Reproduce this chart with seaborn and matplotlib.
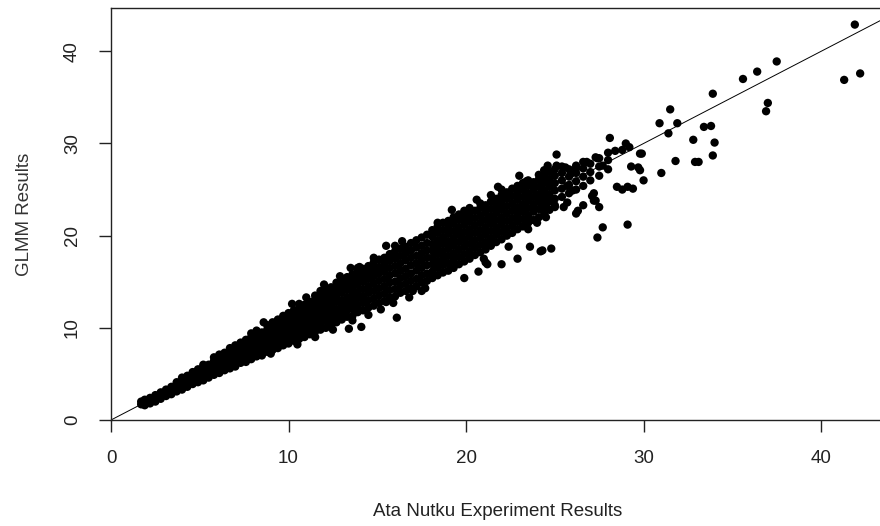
import matplotlib
matplotlib.use("Agg")
import matplotlib.pyplot as plt
import seaborn as sns
import pandas as pd

# ---------------- data ----------------
# dense core of the cloud: x value of each column and the y values in it
core_cols_x = [1.7, 1.9, 2.2, 2.5, 2.8, 3.1, 3.4, 3.7, 4.0, 4.3, 4.6, 4.9, 5.2, 5.5,
               5.8, 6.1, 6.4, 6.7, 7.0, 7.3, 7.6, 7.9, 8.2, 8.5, 8.8, 9.1, 9.4, 9.7,
               10.0, 10.3, 10.6, 10.9, 11.2, 11.5, 11.8, 12.1, 12.4, 12.7, 13.0, 13.3,
               13.6, 13.9, 14.2, 14.5, 14.8, 15.1, 15.4, 15.7, 16.0, 16.3, 16.6, 16.9,
               17.2, 17.5, 17.8]
core_cols_y = [
    [1.7, 2.0], [1.6, 1.9, 2.2], [1.8, 2.1, 2.4], [2.0, 2.4, 2.7], [2.3, 2.6, 3.0],
    [2.6, 2.9, 3.3], [2.8, 3.2, 3.6], [3.1, 3.5, 3.9, 4.1], [3.3, 3.7, 4.1, 4.6],
    [3.6, 4.0, 4.4, 4.8], [3.9, 4.3, 4.7, 5.2], [4.1, 4.5, 5.0, 5.5],
    [4.3, 4.8, 5.3, 5.8, 6.0], [4.6, 5.1, 5.5, 6.0], [4.9, 5.4, 5.9, 6.4, 6.8],
    [5.1, 5.6, 6.1, 6.6, 7.1], [5.4, 5.9, 6.4, 6.9, 7.3], [5.6, 6.2, 6.7, 7.2, 7.8],
    [5.8, 6.4, 7.0, 7.5, 8.1], [6.2, 6.7, 7.2, 7.8, 8.4], [6.3, 6.9, 7.5, 8.1, 8.7],
    [6.6, 7.2, 7.8, 8.4, 9.0, 9.4], [6.9, 7.5, 8.1, 8.7, 9.3, 9.7],
    [7.0, 7.7, 8.3, 8.9, 9.5], [7.4, 8.0, 8.6, 9.2, 9.8, 10.3],
    [7.6, 8.2, 8.8, 9.4, 10.0, 10.6], [7.8, 8.5, 9.1, 9.7, 10.3, 10.9],
    [8.1, 8.7, 9.4, 10.0, 10.6, 11.3], [8.3, 9.0, 9.6, 10.2, 10.9, 11.6],
    [8.6, 9.2, 9.9, 10.5, 11.2, 11.9], [8.8, 9.5, 10.1, 10.8, 11.5, 12.2, 12.6],
    [9.0, 9.7, 10.4, 11.1, 11.8, 12.5], [9.3, 10.0, 10.7, 11.4, 12.1, 12.8],
    [9.6, 10.3, 11.0, 11.7, 12.4, 13.1, 13.5], [9.8, 10.5, 11.2, 11.9, 12.6, 13.3, 14.0],
    [10.0, 10.8, 11.5, 12.2, 12.9, 13.6, 14.2], [10.4, 11.1, 11.8, 12.5, 13.2, 13.9, 14.4],
    [10.6, 11.3, 12.0, 12.8, 13.5, 14.2, 14.9], [10.9, 11.6, 12.3, 13.0, 13.8, 14.5, 15.2],
    [11.2, 11.9, 12.6, 13.3, 14.1, 14.8, 15.5], [11.3, 12.1, 12.9, 13.6, 14.4, 15.1, 15.8],
    [11.7, 12.4, 13.2, 13.9, 14.7, 15.4, 16.1], [11.9, 12.7, 13.4, 14.2, 15.0, 15.7, 16.4],
    [12.2, 13.0, 13.8, 14.5, 15.3, 16.0, 16.7], [12.4, 13.2, 14.0, 14.8, 15.6, 16.3, 17.1],
    [12.7, 13.5, 14.3, 15.1, 15.9, 16.6, 17.4], [12.9, 13.7, 14.5, 15.3, 16.1, 16.9, 17.6],
    [13.3, 14.1, 14.9, 15.7, 16.5, 17.3, 18.0], [13.4, 14.2, 15.0, 15.9, 16.7, 17.5, 18.3],
    [13.8, 14.6, 15.4, 16.2, 17.0, 17.8, 18.6], [14.0, 14.8, 15.6, 16.4, 17.3, 18.1, 18.8],
    [14.3, 15.1, 15.9, 16.8, 17.6, 18.4, 19.2], [14.5, 15.3, 16.2, 17.0, 17.8, 18.7, 19.5],
    [14.9, 15.7, 16.5, 17.3, 18.1, 18.9, 19.8], [15.1, 15.9, 16.8, 17.6, 18.4, 19.2, 20.1],
]

# middle part of the cloud (x 18 - 28)
mid_cols_x = [18.1, 18.4, 18.7, 19.0, 19.3, 19.6, 19.9, 20.2, 20.5, 20.8, 21.1, 21.4,
              21.7, 22.0, 22.3, 22.6, 22.9, 23.2, 23.5, 23.8, 24.1, 24.4, 24.7, 25.0,
              25.4, 25.8, 26.2, 26.6, 27.0, 27.5, 28.0]
mid_cols_y = [
    [15.4, 16.1, 16.9, 17.6, 18.4, 19.1, 19.9, 20.6],
    [15.7, 16.5, 17.2, 18.0, 18.7, 19.5, 20.3, 21.0],
    [16.0, 16.8, 17.5, 18.3, 19.1, 19.8, 20.6, 21.4],
    [16.2, 17.0, 17.8, 18.6, 19.4, 20.2, 21.0, 21.6],
    [16.5, 17.3, 18.1, 18.9, 19.7, 20.5, 21.3, 22.0],
    [16.9, 17.7, 18.5, 19.3, 20.1, 20.9, 21.7, 22.3],
    [17.2, 18.0, 18.8, 19.6, 20.4, 21.2, 22.0, 22.7],
    [17.5, 18.3, 19.1, 19.9, 20.7, 21.5, 22.3, 23.0],
    [17.9, 18.7, 19.5, 20.3, 21.1, 21.9, 22.7],
    [18.2, 19.0, 19.8, 20.6, 21.4, 22.2, 23.0, 23.5],
    [18.5, 19.3, 20.1, 20.9, 21.7, 22.5, 23.3],
    [18.9, 19.7, 20.5, 21.3, 22.1, 22.9, 23.7, 24.4],
    [19.3, 20.1, 20.9, 21.7, 22.5, 23.3, 24.0],
    [19.6, 20.4, 21.2, 22.0, 22.8, 23.6, 24.4, 25.0],
    [20.0, 20.8, 21.6, 22.4, 23.2, 24.0, 24.7],
    [20.3, 21.1, 21.9, 22.7, 23.5, 24.3, 25.1],
    [20.7, 21.5, 22.3, 23.1, 23.9, 24.7, 25.4],
    [21.0, 21.8, 22.6, 23.4, 24.2, 25.0, 25.7],
    [21.4, 22.2, 23.0, 23.8, 24.6, 25.4, 26.0],
    [21.7, 22.6, 23.4, 24.2, 25.0, 25.8],
    [22.0, 22.9, 23.7, 24.5, 25.3, 26.1, 26.6],
    [22.5, 23.3, 24.1, 24.9, 25.7, 26.4],
    [22.8, 23.7, 24.5, 25.3, 26.1, 26.9],
    [23.1, 24.0, 24.9, 25.7, 26.5, 27.2],
    [24.2, 25.1, 26.0, 26.8, 27.5],
    [24.6, 25.5, 26.4, 27.2],
    [25.0, 25.9, 26.8, 27.6],
    [25.4, 26.4, 27.3, 28.0],
    [26.0, 26.9, 27.8],
    [26.5, 27.5, 28.4],
    [27.2, 28.2, 29.0],
]

# ragged edges of the cloud
edge_x = [8.6, 10.2, 11.0, 12.0, 12.9, 14.0, 14.8, 9.0, 10.5, 11.5, 12.5, 13.6,
          14.5, 15.2, 16.8, 17.5, 16.4, 19.2, 20.6, 21.8, 23.0, 24.6]
edge_y = [10.6, 12.6, 13.3, 14.7, 15.6, 16.6, 17.6, 7.2, 8.2, 9.0, 9.8, 10.8,
          11.4, 12.0, 13.3, 14.0, 19.4, 22.8, 23.9, 25.3, 26.5, 27.6]

# scattered points away from the core
out_x = [41.9, 42.2, 41.3, 37.5, 36.4, 35.6, 37.0, 36.9, 33.9, 31.5, 30.9, 31.9, 31.4,
         33.4, 33.8, 32.8, 28.1, 34.0, 33.9, 31.8, 32.9, 33.1, 31.0, 30.0, 29.7, 29.8,
         29.3, 29.8, 29.9, 29.0, 29.2, 28.5, 28.8, 29.1, 29.4, 27.1, 27.3, 27.5, 26.6,
         26.3, 26.2, 25.7, 25.5, 26.0, 25.7, 28.4, 28.8, 27.4, 27.7, 29.1, 27.7, 27.4,
         24.8, 24.3, 24.2, 23.6, 22.9, 22.0, 22.4, 23.5, 24.0, 24.5, 25.1, 25.1, 25.6,
         24.4, 23.4, 27.3, 26.8, 26.2, 25.9, 27.2, 27.2, 25.0, 24.5, 21.0, 21.2, 20.7,
         19.9, 21.1, 17.7, 17.0, 16.1, 15.5, 15.9, 13.4, 14.1, 13.5, 13.9, 15.5, 16.0,
         18.4]
out_y = [42.9, 37.6, 36.9, 38.9, 37.8, 37.0, 34.4, 33.5, 35.4, 33.7, 32.2, 32.2, 31.1,
         31.8, 31.9, 30.4, 30.6, 30.1, 28.7, 28.1, 28.0, 28.0, 26.8, 26.0, 27.4, 27.1,
         27.5, 28.9, 28.9, 30.0, 29.6, 25.3, 25.0, 25.3, 25.1, 24.3, 23.8, 23.1, 23.3,
         22.7, 22.4, 23.6, 23.1, 24.9, 25.4, 29.2, 29.3, 28.4, 27.6, 21.2, 20.9, 19.8,
         18.6, 18.4, 18.3, 18.8, 17.5, 16.9, 18.8, 20.7, 21.4, 22.0, 28.8, 27.6, 27.4,
         27.1, 25.9, 28.5, 28.0, 27.3, 26.7, 24.6, 23.8, 23.3, 23.3, 17.5, 16.9, 16.1,
         15.4, 17.1, 14.3, 14.0, 11.1, 12.8, 12.7, 9.9, 10.1, 16.5, 16.5, 18.9, 18.9,
         21.4]

x_ticks = [0, 10, 20, 30, 40]
y_ticks = [0, 10, 20, 30, 40]
x_title = "Ata Nutku Experiment Results"
y_title = "GLMM Results"

# ---------------- build table ----------------
xs, ys = [], []
for cx, cys in zip(core_cols_x + mid_cols_x, core_cols_y + mid_cols_y):
    for v in cys:
        xs.append(cx)
        ys.append(v)
xs += edge_x + out_x
ys += edge_y + out_y
df = pd.DataFrame({"exp": xs, "glmm": ys})

# ---------------- plot ----------------
sns.set_theme(style="white")
plt.rcParams["font.family"] = ["Liberation Sans", "DejaVu Sans"]

fig = plt.figure(figsize=(8.8, 5.26), dpi=100)
ax = fig.add_axes([111 / 880, 106 / 526, 774 / 880, 412 / 526])

sns.scatterplot(data=df, x="exp", y="glmm", color="black", s=36,
                linewidth=0, edgecolor="none", ax=ax, legend=False)
ax.axline((0, 0), slope=1, color="black", lw=0.7)

ax.set_xlim(0, 43.6)
ax.set_ylim(0, 44.7)
ax.set_xticks(x_ticks)
ax.set_yticks(y_ticks)
ax.set_xticklabels([str(t) for t in x_ticks])
ax.set_yticklabels([str(t) for t in y_ticks], rotation=90, va="center")

for side in ["left", "bottom", "top"]:
    ax.spines[side].set_visible(True)
    ax.spines[side].set_color("#222222")
    ax.spines[side].set_linewidth(1.0)
ax.spines["right"].set_visible(False)

ax.tick_params(axis="both", which="major", direction="out", length=8.6, width=1.0,
               color="#222222", labelsize=13.5, labelcolor="#222222",
               bottom=True, left=True, pad=13)

ax.set_xlabel(x_title, fontsize=13.5, color="#222222", labelpad=26)
ax.set_ylabel(y_title, fontsize=13.5, color="#333333", labelpad=22)

fig.savefig("out.png", dpi=100)
